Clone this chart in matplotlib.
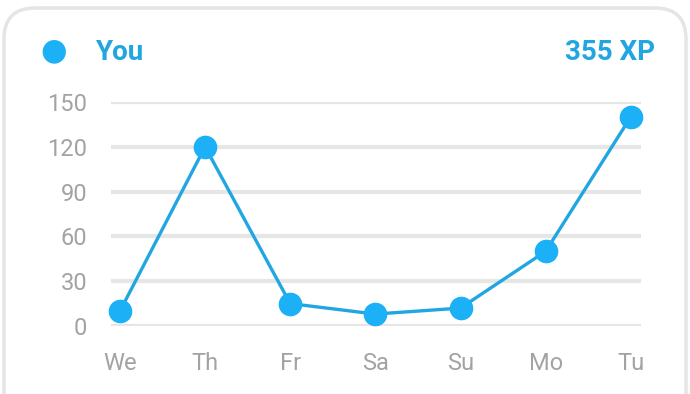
import matplotlib
matplotlib.use("Agg")
import matplotlib.pyplot as plt
from matplotlib.patches import FancyBboxPatch

# data
days = ["We", "Th", "Fr", "Sa", "Su", "Mo", "Tu"]
xp = [10, 120, 15, 8, 12, 50, 140]
yticks = [0, 30, 60, 90, 120, 150]
total_label = "355 XP"
series_name = "You"

blue = "#22a6e2"
marker_blue = "#1cb0f6"
grey = "#a3a3a3"

plt.rcParams['font.family'] = ['Roboto', 'DejaVu Sans']

W, H = 690, 394
fig = plt.figure(figsize=(W / 100, H / 100), dpi=100)

# card outline
card = FancyBboxPatch((4 / W, -40 / H), 682 / W, (H - 8 + 40) / H,
                      boxstyle="round,pad=0,rounding_size=0.045",
                      transform=fig.transFigure, facecolor="white",
                      edgecolor="#e5e5e5", linewidth=2.5, mutation_aspect=W / H,
                      zorder=-5)
fig.patches.append(card)

ax = fig.add_axes([111 / W, 68 / H, (641 - 111) / W, (326 - 102) / H])
ax.set_zorder(3)
ax.set_facecolor("none")
x = list(range(len(days)))
ax.plot(x, xp, color=blue, linewidth=2.4, marker="o", markersize=16,
        markerfacecolor=marker_blue, markeredgecolor=marker_blue,
        clip_on=False, zorder=3)

ax.set_xlim(-0.105, 6.12)
ax.set_ylim(0, 150)
ax.set_yticks(yticks)
ax.set_xticks(x)
ax.set_xticklabels(days)
for s in ax.spines.values():
    s.set_visible(False)
ax.tick_params(length=0, labelcolor=grey, labelsize=17)
ax.tick_params(axis="y", pad=17)
ax.tick_params(axis="x", pad=19)
ax.grid(axis="y", color="#e6e6e6", linewidth=3)
ax.set_axisbelow(True)

# header
fig.text(54 / W, 1 - 51 / H, "\u25CF", color=marker_blue, fontsize=22,
         ha="center", va="center", family="DejaVu Sans")
fig.text(96 / W, 1 - 53 / H, series_name, color=blue, fontsize=20,
         fontweight="bold", ha="left", va="center")
fig.text(655 / W, 1 - 53 / H, total_label, color=blue, fontsize=20,
         fontweight="bold", ha="right", va="center")

fig.savefig("out.png", dpi=100)
